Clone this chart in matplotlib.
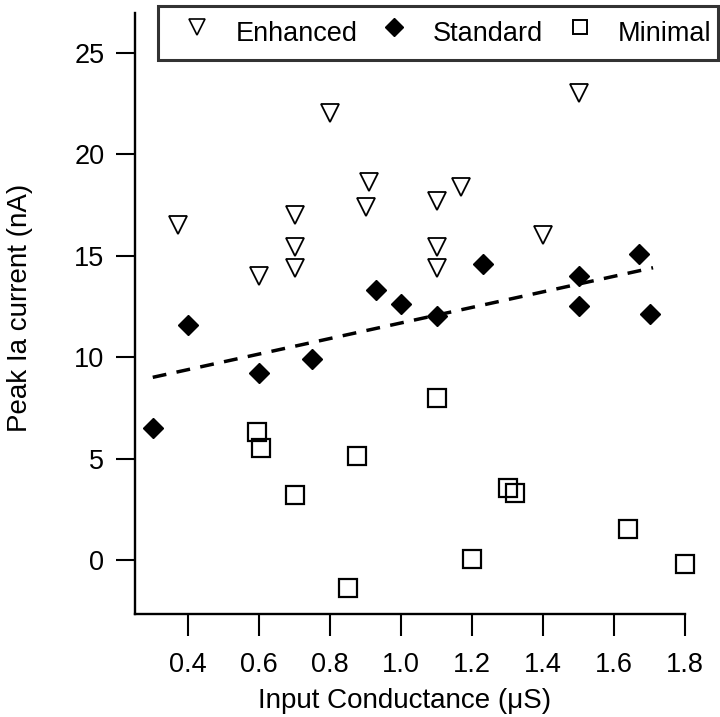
import matplotlib.pyplot as plt
from matplotlib.lines import Line2D

plt.rcParams['font.family'] = ['Liberation Sans', 'DejaVu Sans']

# Enhanced (open down-triangles)
enh_x = [0.37, 0.60, 0.70, 0.70, 0.70, 0.80, 0.90, 0.91, 1.10, 1.10, 1.10, 1.17, 1.40, 1.50]
enh_y = [16.5, 14.0, 17.0, 15.4, 14.4, 22.0, 17.4, 18.6, 17.7, 15.4, 14.4, 18.4, 16.0, 23.0]

# Standard (filled diamonds)
std_x = [0.30, 0.40, 0.60, 0.75, 0.93, 1.00, 1.10, 1.23, 1.50, 1.50, 1.67, 1.70]
std_y = [6.5, 11.6, 9.2, 9.9, 13.3, 12.6, 12.0, 14.6, 14.0, 12.5, 15.1, 12.1]

# Minimal (open squares)
min_x = [0.595, 0.605, 0.70, 0.85, 0.875, 1.10, 1.20, 1.30, 1.32, 1.64, 1.80]
min_y = [6.3, 5.5, 3.2, -1.4, 5.1, 8.0, 0.05, 3.55, 3.3, 1.55, -0.2]

# dashed fit line endpoints
fit_x = [0.30, 1.71]
fit_y = [9.0, 14.4]

xticks = [0.4, 0.6, 0.8, 1.0, 1.2, 1.4, 1.6, 1.8]
yticks = [0, 5, 10, 15, 20, 25]

fig = plt.figure(figsize=(7.2, 7.17), dpi=100)
ax = fig.add_axes([135/720, 1-614/717, 550/720, 601/717])

ax.plot(fit_x, fit_y, ls=(0, (4, 3)), color='black', lw=2.5, zorder=1)
ax.plot(enh_x, enh_y, 'v', ms=12.5, mfc='white', mec='black', mew=1.3, ls='none', clip_on=False)
ax.plot(std_x, std_y, 'D', ms=10, color='black', ls='none', clip_on=False)
ax.plot(min_x, min_y, 's', ms=12.5, mfc='none', mec='black', mew=1.6, ls='none', clip_on=False)

ax.set_xlim(0.25, 1.80)
ax.set_ylim(-2.66, 26.95)
ax.set_xticks(xticks)
ax.set_xticklabels([f'{t:.1f}' for t in xticks])
ax.set_yticks(yticks)

for s in ['top', 'right']:
    ax.spines[s].set_visible(False)
for s in ['left', 'bottom']:
    ax.spines[s].set_linewidth(1.7)
ax.tick_params(axis='both', direction='out', width=1.5, labelsize=19.5)
ax.tick_params(axis='y', length=14, pad=8)
ax.tick_params(axis='x', length=16, pad=11)

ax.set_xlabel('Input Conductance (\u03bcS)', fontsize=20)
ax.set_ylabel('Peak Ia current (nA)', fontsize=20)
ax.xaxis.set_label_coords(0.49, -0.123)
ax.yaxis.set_label_coords(-0.185, 0.51)

handles = [
    Line2D([], [], marker='v', ms=11, mfc='white', mec='black', mew=1.2, ls='none'),
    Line2D([], [], marker='D', ms=9, color='black', ls='none'),
    Line2D([], [], marker='s', ms=9.5, mfc='none', mec='black', mew=1.4, ls='none'),
]
leg = fig.legend(handles, ['Enhanced', 'Standard', 'Minimal'], ncol=3,
                 loc='upper left', bbox_to_anchor=(158/720, 1-6/717),
                 fontsize=19.5, frameon=True, fancybox=False, edgecolor='black',
                 handlelength=2.4, handleheight=1.9, handletextpad=0.22,
                 columnspacing=0.15, borderpad=0.25, borderaxespad=0)
leg.get_frame().set_linewidth(2.2)

fig.savefig('out.png', dpi=100)
